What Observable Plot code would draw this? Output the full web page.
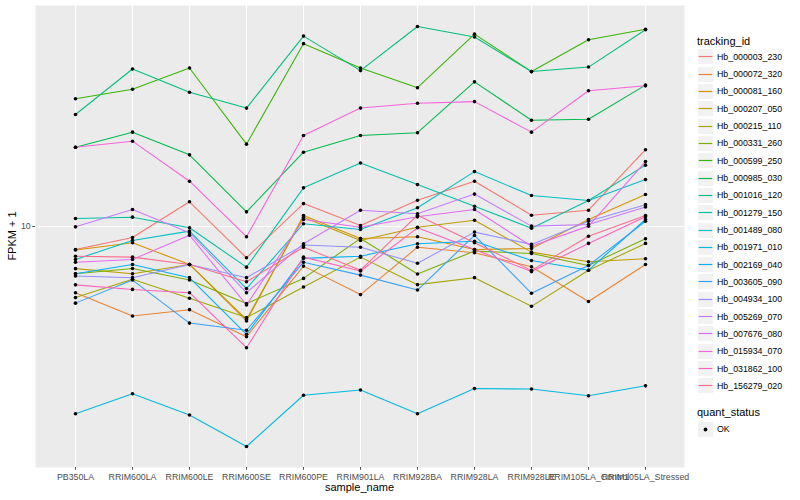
<!DOCTYPE html>
<html><head><meta charset="utf-8">
<script src="https://cdn.jsdelivr.net/npm/d3@7"></script>
<script src="https://cdn.jsdelivr.net/npm/@observablehq/plot@0.6"></script>
<style>
body{margin:0;background:#fff;font-family:"Liberation Sans",Arial,Helvetica,sans-serif;}
#wrap{position:relative;width:800px;height:500px;overflow:hidden;background:#fff;}
#chart{position:absolute;left:0;top:0;}
.t{position:absolute;white-space:nowrap;color:#000;line-height:1;}
.key{position:absolute;width:17px;height:17px;display:block;}
</style></head>
<body><div id="wrap"><div id="chart"></div></div>
<script>
const samples = ["PB350LA","RRIM600LA","RRIM600LE","RRIM600SE","RRIM600PE","RRIM901LA","RRIM928BA","RRIM928LA","RRIM928LE","RRIM105LA_Control","RRIM105LA_Stressed"];
const trackingIds = ["Hb_000003_230","Hb_000072_320","Hb_000081_160","Hb_000207_050","Hb_000215_110","Hb_000331_260","Hb_000599_250","Hb_000985_030","Hb_001016_120","Hb_001279_150","Hb_001489_080","Hb_001971_010","Hb_002169_040","Hb_003605_090","Hb_004934_100","Hb_005269_070","Hb_007676_080","Hb_015934_070","Hb_031862_100","Hb_156279_020"];
const palette = ["#F8766D","#EA8331","#D89000","#C09B00","#A3A500","#7CAE00","#39B600","#00BB4E","#00BF7D","#00C1A3","#00BFC4","#00BAE0","#00B0F6","#35A2FF","#9590FF","#C77CFF","#E76BF3","#FA62DB","#FF62BC","#FF6C91"];

// FPKM + 1 per sample (in the order of `samples`)
const hb_000003_230 = [8.25, 9.12, 12.29, 7.70, 12.11, 10.08, 12.45, 14.6, 10.99, 11.46, 19.0];
const hb_000072_320 = [5.75, 4.73, 4.99, 3.98, 7.18, 5.66, 8.41, 8.03, 7.14, 5.34, 7.28];
const hb_000081_160 = [8.22, 8.73, 7.28, 4.54, 10.96, 9.05, 9.18, 8.25, 8.32, 10.60, 13.06];
const hb_000207_050 = [7.03, 6.74, 7.28, 4.60, 10.81, 8.90, 9.94, 10.54, 8.07, 7.45, 7.64];
const hb_000215_110 = [5.52, 6.43, 5.49, 4.67, 6.03, 7.74, 6.15, 6.52, 5.13, 6.94, 8.68];
const hb_000331_260 = [6.74, 7.04, 6.39, 5.25, 6.48, 9.05, 6.72, 8.14, 7.98, 7.22, 9.03];
const hb_000599_250 = [29.1, 31.5, 37.6, 19.9, 46.1, 37.6, 31.9, 49.9, 36.5, 47.6, 52.0];
const hb_000985_030 = [19.4, 22.0, 18.2, 11.3, 18.6, 21.4, 21.9, 33.5, 24.3, 24.5, 32.6];
const hb_001016_120 = [25.5, 37.3, 30.7, 26.9, 49.1, 36.8, 53.2, 48.7, 36.5, 37.9, 51.8];
const hb_001279_150 = [10.69, 10.81, 9.89, 7.12, 13.81, 17.0, 14.19, 11.84, 9.86, 12.42, 16.7];
const hb_001489_080 = [7.59, 8.90, 9.62, 5.95, 10.23, 9.75, 11.69, 15.82, 12.95, 12.42, 14.80];
const hb_001971_010 = [2.09, 2.47, 2.07, 1.59, 2.44, 2.55, 2.09, 2.58, 2.57, 2.43, 2.64];
const hb_002169_040 = [6.74, 7.28, 6.52, 4.06, 7.66, 7.80, 8.66, 8.84, 7.53, 6.94, 10.60];
const hb_003605_090 = [5.27, 6.39, 4.46, 4.20, 7.42, 6.66, 5.88, 9.28, 5.72, 7.22, 10.45];
const hb_004934_100 = [6.61, 6.52, 7.28, 6.52, 8.56, 8.41, 7.35, 9.54, 8.61, 10.45, 12.0];
const hb_005269_070 = [9.97, 11.52, 9.49, 5.75, 8.66, 11.46, 11.12, 13.11, 10.03, 10.17, 11.78];
const hb_007676_080 = [7.42, 7.59, 9.30, 5.19, 10.60, 9.94, 10.84, 11.52, 8.48, 10.03, 17.2];
const hb_015934_070 = [19.4, 20.4, 14.6, 9.18, 21.4, 26.9, 28.0, 28.4, 22.0, 31.1, 32.4];
const hb_031862_100 = [6.14, 5.91, 5.75, 3.63, 7.74, 6.89, 9.89, 8.25, 6.86, 8.68, 10.84];
const hb_156279_020 = [7.80, 7.74, 7.28, 6.30, 8.41, 6.94, 10.99, 8.73, 6.93, 9.22, 10.96];

const seriesValues = [hb_000003_230, hb_000072_320, hb_000081_160, hb_000207_050, hb_000215_110, hb_000331_260, hb_000599_250, hb_000985_030, hb_001016_120, hb_001279_150, hb_001489_080, hb_001971_010, hb_002169_040, hb_003605_090, hb_004934_100, hb_005269_070, hb_007676_080, hb_015934_070, hb_031862_100, hb_156279_020];

const rows = trackingIds.flatMap((id, i) => seriesValues[i].map((v, j) => ({id, sample: samples[j], fpkm: v})));

const lo = Math.log10(d3.min(rows, d => d.fpkm));
const hi = Math.log10(d3.max(rows, d => d.fpkm));
const pad = (hi - lo) * 0.05;

const chart = Plot.plot({
  width: 690, height: 500,
  marginLeft: 35, marginRight: 6, marginTop: 5, marginBottom: 33,
  style: {fontFamily: '"Liberation Sans", Arial, sans-serif', fontSize: "8.8px", background: "transparent"},
  x: {type: "point", domain: samples, padding: 0.6, label: null},
  y: {type: "log", domain: [10 ** (lo - pad), 10 ** (hi + pad)], label: null},
  color: {domain: trackingIds, range: palette},
  marks: [
    Plot.frame({fill: "#EBEBEB", stroke: "none"}),
    Plot.gridX({stroke: "#FFFFFF", strokeOpacity: 1, strokeWidth: 1.07}),
    Plot.gridY([10], {stroke: "#FFFFFF", strokeOpacity: 1, strokeWidth: 1.07}),
    Plot.line(rows, {x: "sample", y: "fpkm", z: "id", stroke: "id", strokeWidth: 1.07}),
    Plot.dot(rows, {x: "sample", y: "fpkm", fill: "#000", r: 1.8}),
    Plot.axisX({tickSize: 2.75, tickPadding: 3, color: "#4D4D4D", label: null}),
    Plot.axisY({ticks: [10], tickFormat: d => String(d), tickSize: 2.75, tickPadding: 2, color: "#4D4D4D", label: null})
  ]
});
document.getElementById("chart").appendChild(chart);

// HTML titles and legend
const wrap = document.getElementById("wrap");
const NS = "http://www.w3.org/2000/svg";
function addText(txt, css) {
  const el = document.createElement("div");
  el.className = "t"; el.textContent = txt;
  Object.assign(el.style, css);
  wrap.appendChild(el);
  return el;
}
function addKey(top, color, dot) {
  const svg = document.createElementNS(NS, "svg");
  svg.setAttribute("class", "key");
  svg.setAttribute("width", "17"); svg.setAttribute("height", "17");
  svg.style.left = "697px"; svg.style.top = top + "px";
  const r = document.createElementNS(NS, "rect");
  r.setAttribute("x", 0.5); r.setAttribute("y", 0.5); r.setAttribute("width", 16); r.setAttribute("height", 16);
  r.setAttribute("fill", "#F2F2F2"); r.setAttribute("stroke", "#FFFFFF");
  svg.appendChild(r);
  if (dot) {
    const c = document.createElementNS(NS, "circle");
    c.setAttribute("cx", 8.5); c.setAttribute("cy", 8.5); c.setAttribute("r", 1.9); c.setAttribute("fill", "#000");
    svg.appendChild(c);
  } else {
    const l = document.createElementNS(NS, "line");
    l.setAttribute("x1", 1.7); l.setAttribute("x2", 15.3); l.setAttribute("y1", 8.5); l.setAttribute("y2", 8.5);
    l.setAttribute("stroke", color); l.setAttribute("stroke-width", 1.2);
    svg.appendChild(l);
  }
  wrap.appendChild(svg);
}
addText("sample_name", {left: "359.5px", top: "487px", fontSize: "11px", transform: "translate(-50%,-50%)"});
addText("FPKM + 1", {left: "12px", top: "236px", fontSize: "11px", transform: "translate(-50%,-50%) rotate(-90deg)"});
addText("tracking_id", {left: "697px", top: "40.7px", fontSize: "11px", transform: "translateY(-50%)"});
trackingIds.forEach((id, i) => {
  const cy = 56.7 + i * 17.33;
  addKey(Math.round(cy - 8.5), palette[i], false);
  addText(id, {left: "717px", top: cy + "px", fontSize: "8.8px", transform: "translateY(-50%)"});
});
addText("quant_status", {left: "697px", top: "412.3px", fontSize: "11px", transform: "translateY(-50%)"});
addKey(Math.round(429 - 8.5), "#000", true);
addText("OK", {left: "717px", top: "429px", fontSize: "8.8px", transform: "translateY(-50%)"});
</script>
</body></html>
